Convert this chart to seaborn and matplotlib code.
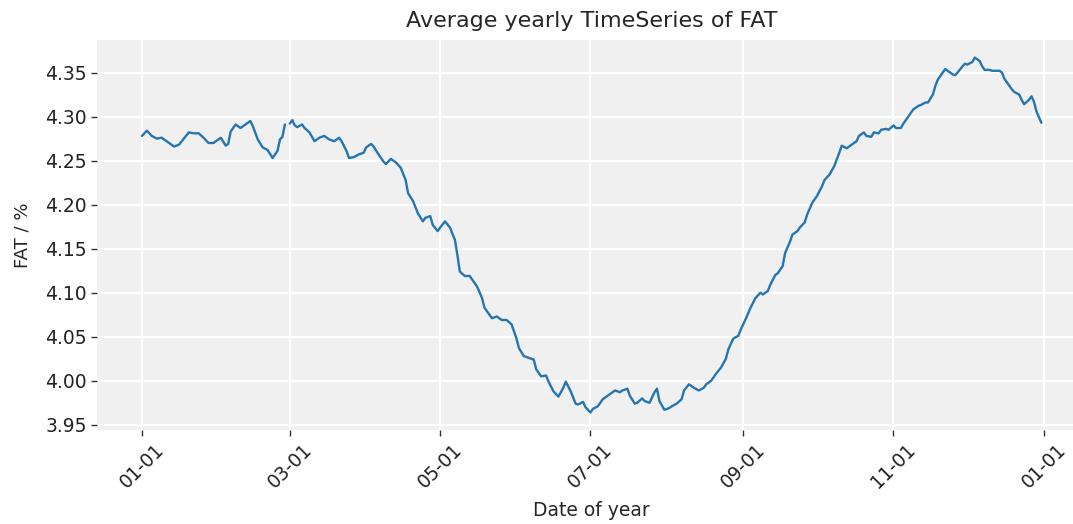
import numpy as np
import pandas as pd
import seaborn as sns
import matplotlib.pyplot as plt
import matplotlib.dates as mdates

sns.set_style("darkgrid", {
    "axes.facecolor": "#f0f0f0",
    "grid.color": "white",
    "xtick.bottom": True,
    "ytick.left": True,
    "axes.edgecolor": "white",
})

# day of year (2020, leap year) and average FAT value
doy_jan_feb = [0, 2, 4, 6, 8, 10, 13, 15, 17, 19, 21, 23, 25, 27, 29, 31, 32, 34,
               35, 36, 38, 40, 42, 44, 45, 47, 49, 51, 53, 55, 56, 57, 58]
fat_jan_feb = [4.278, 4.284, 4.278, 4.275, 4.276, 4.272, 4.266, 4.268, 4.275, 4.282,
               4.281, 4.281, 4.276, 4.270, 4.270, 4.274, 4.276, 4.267, 4.269, 4.283,
               4.291, 4.287, 4.291, 4.295, 4.289, 4.274, 4.265, 4.262, 4.253, 4.261,
               4.274, 4.277, 4.291]

doy_rest = [60, 61, 62, 63, 65, 66, 68, 70, 72, 74, 76, 78, 80, 81, 83, 84, 86, 88,
            90, 91, 93, 94, 96, 98, 99, 101, 103, 105, 107, 108, 110, 112, 114, 115,
            117, 118, 120, 121, 123, 125, 127, 128, 129, 131, 133, 134, 136, 138, 139,
            141, 142, 144, 146, 148, 150, 152, 153, 155, 157, 159, 160, 162, 164, 165,
            167, 169, 171, 172, 174, 176, 177, 179, 180, 182, 183, 185, 187, 190, 192,
            194, 195, 197, 198, 200, 201, 203, 204, 206, 208, 209, 210, 212, 214, 215,
            217, 219, 220, 222, 224, 226, 228, 229, 231, 233, 235, 237, 238, 240, 242,
            243, 245, 247, 249, 251, 252, 254, 255, 257, 258, 260, 261, 263, 264, 266,
            267, 269, 270, 272, 274, 276, 277, 279, 281, 283, 284, 286, 288, 290, 291,
            293, 294, 296, 297, 299, 300, 302, 303, 305, 306, 308, 309, 311, 313, 315,
            316, 318, 319, 321, 322, 323, 325, 326, 327, 329, 330, 331, 333, 334, 335,
            337, 338, 340, 341, 342, 344, 345, 346, 348, 349, 350, 352, 353, 354, 356,
            357, 358, 360, 361, 362, 363, 365]
fat_rest = [4.292, 4.296, 4.290, 4.288, 4.291, 4.287, 4.282, 4.272, 4.276, 4.278,
            4.274, 4.272, 4.276, 4.272, 4.261, 4.253, 4.254, 4.257, 4.259, 4.265,
            4.269, 4.266, 4.257, 4.249, 4.246, 4.252, 4.248, 4.242, 4.228, 4.213,
            4.204, 4.190, 4.181, 4.185, 4.187, 4.177, 4.170, 4.174, 4.181, 4.174,
            4.160, 4.143, 4.124, 4.119, 4.119, 4.115, 4.107, 4.094, 4.083, 4.075,
            4.071, 4.073, 4.069, 4.069, 4.064, 4.048, 4.037, 4.028, 4.026, 4.024,
            4.013, 4.005, 4.006, 3.999, 3.988, 3.982, 3.992, 3.999, 3.988, 3.974,
            3.973, 3.976, 3.970, 3.964, 3.968, 3.971, 3.979, 3.985, 3.989, 3.987,
            3.989, 3.991, 3.983, 3.974, 3.975, 3.980, 3.977, 3.975, 3.987, 3.991,
            3.977, 3.967, 3.969, 3.971, 3.974, 3.979, 3.989, 3.996, 3.992, 3.989,
            3.992, 3.996, 4.000, 4.008, 4.015, 4.025, 4.036, 4.048, 4.051, 4.058,
            4.070, 4.083, 4.094, 4.100, 4.098, 4.102, 4.109, 4.120, 4.122, 4.130,
            4.145, 4.158, 4.166, 4.170, 4.174, 4.180, 4.189, 4.202, 4.210, 4.221,
            4.228, 4.234, 4.244, 4.259, 4.267, 4.264, 4.268, 4.272, 4.278, 4.282,
            4.278, 4.277, 4.282, 4.281, 4.285, 4.286, 4.285, 4.290, 4.287, 4.287,
            4.292, 4.300, 4.308, 4.312, 4.313, 4.316, 4.316, 4.325, 4.335, 4.342,
            4.350, 4.354, 4.352, 4.348, 4.347, 4.350, 4.357, 4.360, 4.359, 4.362,
            4.367, 4.363, 4.357, 4.353, 4.353, 4.352, 4.352, 4.352, 4.350, 4.343,
            4.335, 4.331, 4.328, 4.325, 4.319, 4.314, 4.319, 4.323, 4.317, 4.306,
            4.293]

start = pd.Timestamp("2020-01-01")
seg1 = pd.DataFrame({"date": start + pd.to_timedelta(doy_jan_feb, unit="D"), "FAT": fat_jan_feb})
seg2 = pd.DataFrame({"date": start + pd.to_timedelta(doy_rest, unit="D"), "FAT": fat_rest})

fig = plt.figure(figsize=(10.73, 5.24), dpi=100)
ax = fig.add_axes([0.0904, 0.179, 0.922, 0.745])

# Feb 29 missing -> two segments
for seg in (seg1, seg2):
    sns.lineplot(data=seg, x="date", y="FAT", color="#2475b0", linewidth=1.7, ax=ax)

ax.set_xlim(pd.Timestamp("2019-12-13 18:00"), pd.Timestamp("2021-01-18 06:00"))
ax.xaxis.set_major_locator(mdates.MonthLocator(bymonth=[1, 3, 5, 7, 9, 11]))
ax.xaxis.set_major_formatter(mdates.DateFormatter("%m-%d"))
ax.set_yticks([3.95, 4.00, 4.05, 4.10, 4.15, 4.20, 4.25, 4.30, 4.35])
ax.yaxis.set_major_formatter(plt.FormatStrFormatter("%.2f"))

ax.grid(True, color="white", linewidth=1.6)
for s in ax.spines.values():
    s.set_visible(False)
ax.tick_params(axis="both", length=4, width=1, color="#333333", labelsize=13.5,
               labelcolor="#222222")
plt.setp(ax.get_xticklabels(), rotation=45)

ax.set_title("Average yearly TimeSeries of FAT", fontsize=16, pad=9)
ax.set_xlabel("Date of year", fontsize=13.5, labelpad=6)
ax.set_ylabel("FAT / %", fontsize=13, labelpad=10)

fig.savefig("out.png", dpi=100)
